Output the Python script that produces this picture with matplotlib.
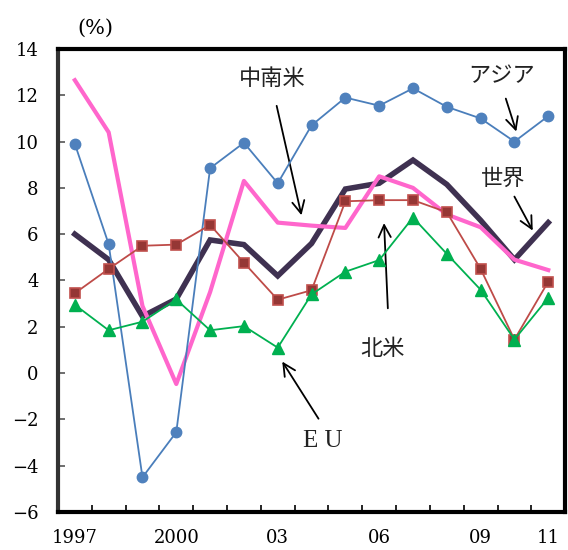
import matplotlib
matplotlib.use("Agg")
import matplotlib.pyplot as plt

years = list(range(1997, 2012))
tick_labels = ["1997", "", "", "2000", "", "", "03", "", "", "06", "", "", "09", "", "11"]

asia = [9.9, 5.57, -4.5, -2.55, 8.85, 9.95, 8.2, 10.7, 11.9, 11.55, 12.3, 11.5, 11.0, 10.0, 11.1]
world = [6.0, 4.9, 2.45, 3.2, 5.75, 5.55, 4.2, 5.6, 7.95, 8.2, 9.2, 8.15, 6.6, 4.9, 6.5]
latam = [12.65, 10.4, 2.9, -0.47, 3.5, 8.3, 6.5, 6.37, 6.27, 8.5, 8.0, 6.85, 6.3, 4.9, 4.45]
namerica = [3.45, 4.5, 5.5, 5.55, 6.4, 4.77, 3.17, 3.58, 7.42, 7.47, 7.47, 6.95, 4.5, 1.45, 3.95]
eu = [2.95, 1.85, 2.22, 3.18, 1.85, 2.03, 1.1, 3.4, 4.38, 4.88, 6.72, 5.15, 3.6, 1.45, 3.25]

jp = ["Noto Sans CJK JP", "DejaVu Sans"]
serif = "DejaVu Serif"

fig = plt.figure(figsize=(5.68, 5.5), dpi=100)
ax = fig.add_axes([0.102, 0.069, 0.893, 0.842])

x = list(range(len(years)))
ax.plot(x, world, color="#3F3151", lw=4, solid_joinstyle="miter", zorder=2)
ax.plot(x, latam, color="#FF66CC", lw=3, zorder=3)
ax.plot(x, asia, color="#4A7EBB", lw=1.3, marker="o", ms=7.5,
        mfc="#4F81BD", mec="#4F81BD", zorder=4)
ax.plot(x, namerica, color="#BE4B48", lw=1.3, marker="s", ms=7.5,
        mfc="#953735", mec="#C0504D", mew=1.2, zorder=5)
ax.plot(x, eu, color="#00B050", lw=1.3, marker="^", ms=8.5,
        mfc="#00B050", mec="#00B050", zorder=6)

ax.set_xlim(-0.5, 14.5)
ax.set_ylim(-6, 14)
ax.set_yticks(range(-6, 15, 2))
ax.set_yticklabels([str(v).replace("-", "\u2212") for v in range(-6, 15, 2)],
                   fontfamily=serif, fontsize=13)
ax.set_xticks(x)
ax.set_xticklabels(tick_labels, fontfamily=serif, fontsize=13)
ax.set_xticks([i + 0.5 for i in range(-1, 15)], minor=True)
ax.tick_params(axis="x", which="major", length=0, pad=12)
ax.tick_params(axis="x", which="minor", direction="in", length=5, width=1.2)
ax.tick_params(axis="y", direction="in", length=5, width=1.2, pad=14, color="#555555")
for s in ax.spines.values():
    s.set_linewidth(3)
    s.set_color("black")
ax.spines["left"].set_color("#333333")

ax.text(0.073, 1.045, "(%)", transform=ax.transAxes, ha="center", va="center",
        fontfamily=serif, fontsize=15)

arrow = dict(arrowstyle="->", color="black", lw=1.3, mutation_scale=22)
def ann(label, xy, xytext, tail, fam=jp, size=16):
    ax.text(xytext[0], xytext[1], label, ha="center", va="center",
            family=fam, fontsize=size, color="#222222")
    ax.annotate("", xy=xy, xytext=tail, arrowprops=arrow)

ann("アジア", (13.08, 10.32), (12.63, 12.83), (12.72, 11.97))
ann("世界", (13.58, 6.05), (12.66, 8.42), (12.96, 7.73))
ann("中南米", (6.72, 6.7), (5.83, 12.74), (5.95, 11.66))
ann("北米", (9.14, 6.6), (9.11, 1.08), (9.26, 2.68))
ann("E U", (6.09, 0.6), (7.34, -2.94), (7.25, -2.07), fam=["Liberation Serif"], size=18)

fig.savefig("out.png", dpi=100)
